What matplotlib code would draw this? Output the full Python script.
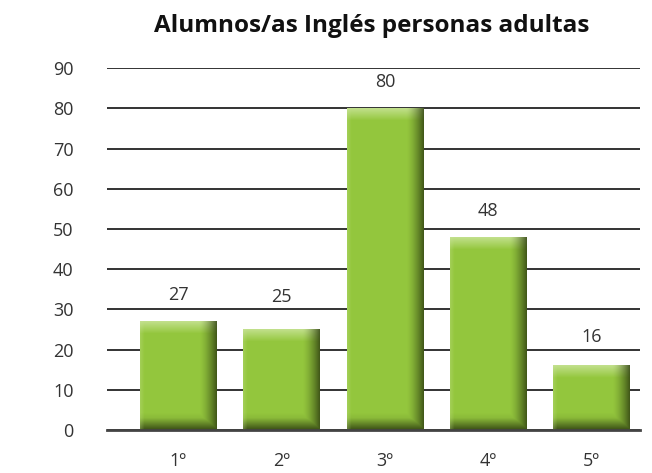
import matplotlib
matplotlib.use("Agg")
import matplotlib.pyplot as plt
import numpy as np

cursos = ["1º", "2º", "3º", "4º", "5º"]
alumnos = [27, 25, 80, 48, 16]
titulo = "Alumnos/as Inglés personas adultas"

plt.rcParams["font.family"] = ["Open Sans", "DejaVu Sans"]

fig = plt.figure(figsize=(6.52, 4.73), dpi=100)
ax = fig.add_axes([0.164, 0.091, 0.818, 0.765])
ax.set_axisbelow(True)

x = np.arange(len(cursos))
ancho = 0.74
barras = ax.bar(x, alumnos, width=ancho, color="#93c43c", zorder=3)


def textura(w, h):
    # sombreado de la barra: luz arriba, sombra abajo y a la derecha
    verde = np.array([0.58, 0.78, 0.24])
    claro = np.array([0.80, 0.90, 0.62])
    oscuro = np.array([0.17, 0.23, 0.06])
    img = np.tile(verde, (h, w, 1))
    filas = np.arange(h)[:, None]
    cols = np.arange(w)[None, :]
    top = np.clip(1 - filas / 12.0, 0, 1) * 0.8
    img = img * (1 - top[..., None]) + claro * top[..., None]
    der = np.clip((cols - (w - 18)) / 18.0, 0, 1) ** 1.5 * 0.85
    bot = np.clip((filas - (h - 14)) / 14.0, 0, 1) * 0.9
    bot = np.maximum(bot, np.clip((filas - (h - 18)) / 18.0, 0, 1) * 0.3)
    sombra = np.maximum(der, bot)
    img = img * (1 - sombra[..., None]) + oscuro * sombra[..., None]
    izq = np.clip(1 - cols / 4.0, 0, 1) * 0.25
    img = img * (1 - izq[..., None]) + claro * izq[..., None]
    return np.clip(img, 0, 1)


px_y = 362 / 90.0
for b, v in zip(barras, alumnos):
    h = max(int(round(v * px_y)), 2)
    img = textura(76, h)
    x0 = b.get_x()
    ax.imshow(img, extent=[x0, x0 + b.get_width(), 0, v], aspect="auto",
              interpolation="bilinear", zorder=4, clip_path=b)
    # etiqueta entre lineas de la rejilla
    y_lab = max(v + 6.5, np.ceil(v / 10) * 10 + 3)
    ax.text(b.get_x() + b.get_width() / 2, y_lab, str(v), ha="center",
            va="center", fontsize=13, color="#333333", zorder=5)

ax.set_xlim(-0.69, 4.47)
ax.set_ylim(0, 90)
ax.set_yticks(range(0, 91, 10))
ax.set_xticks(x)
ax.set_xticklabels(cursos)
ax.yaxis.grid(True, color="#111111", linewidth=1.2)
ax.tick_params(axis="both", length=0, labelsize=13, colors="#333333")
ax.tick_params(axis="y", pad=24)
ax.tick_params(axis="x", pad=16)
for s in ["top", "right", "left"]:
    ax.spines[s].set_visible(False)
ax.spines["bottom"].set_color("#444444")
ax.spines["bottom"].set_linewidth(2)
ax.spines["bottom"].set_zorder(6)

fig.text(0.57, 0.945, titulo, ha="center", va="center", fontsize=17.5,
         fontweight="bold", color="#111111")

fig.savefig("out.png", dpi=100)
